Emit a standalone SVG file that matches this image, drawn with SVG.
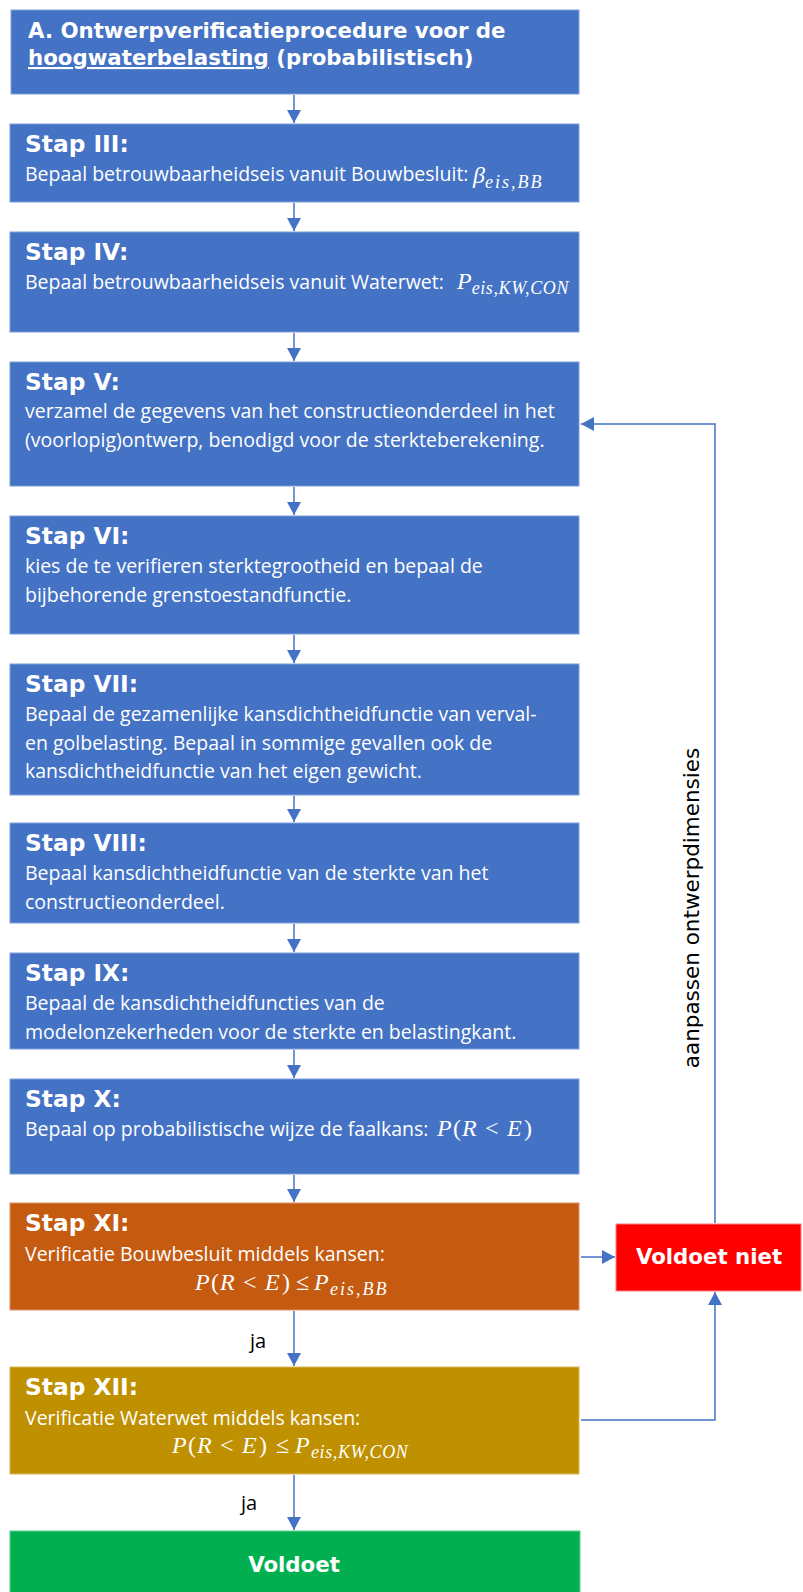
<svg xmlns="http://www.w3.org/2000/svg" width="803" height="1592" viewBox="0 0 803 1592">
<style>
.bl{fill:#4472C4;stroke:#7F9FD8;stroke-width:1}
.or{fill:#C55A11;stroke:#E0916A;stroke-width:1}
.gd{fill:#BF9000;stroke:#D8B860;stroke-width:1}
.rd{fill:#FF0000;stroke:#FF8080;stroke-width:1}
.gr{fill:#00B050;stroke:#60D090;stroke-width:1}
.t{font-family:"DejaVu Sans",Verdana,sans-serif;font-weight:bold;font-size:21.3px;fill:#fff}
.h{font-family:"DejaVu Sans",Verdana,sans-serif;font-weight:bold;font-size:23.3px;fill:#fff}
.b{font-family:"Open Sans","Noto Sans",sans-serif;font-size:19.5px;fill:#fff}
.m{font-family:"Liberation Serif","Times New Roman",serif;font-style:italic;font-size:24px;fill:#fff}
.u{font-style:normal}
.s{font-size:18px}
.lbl{font-family:"Open Sans","Noto Sans",sans-serif;font-size:20px;fill:#000}
.vl{font-family:"DejaVu Sans",Verdana,sans-serif;font-size:21.5px;fill:#000}
.c{stroke:#4472C4;stroke-width:1.5;fill:none}
</style>
<defs>
<marker id="ah" markerUnits="userSpaceOnUse" markerWidth="13" markerHeight="14" refX="13" refY="7" orient="auto">
<path d="M0,0 L13,7 L0,14 z" fill="#4472C4"/>
</marker>
</defs>

<g id="connectors">
<line class="c" x1="294" y1="95" x2="294" y2="123" marker-end="url(#ah)"/>
<line class="c" x1="294" y1="203" x2="294" y2="231" marker-end="url(#ah)"/>
<line class="c" x1="294" y1="333" x2="294" y2="361" marker-end="url(#ah)"/>
<line class="c" x1="294" y1="487" x2="294" y2="515" marker-end="url(#ah)"/>
<line class="c" x1="294" y1="635" x2="294" y2="663" marker-end="url(#ah)"/>
<line class="c" x1="294" y1="796" x2="294" y2="822" marker-end="url(#ah)"/>
<line class="c" x1="294" y1="924" x2="294" y2="952" marker-end="url(#ah)"/>
<line class="c" x1="294" y1="1050" x2="294" y2="1078" marker-end="url(#ah)"/>
<line class="c" x1="294" y1="1175" x2="294" y2="1202" marker-end="url(#ah)"/>
<line class="c" x1="294" y1="1311" x2="294" y2="1366" marker-end="url(#ah)"/>
<line class="c" x1="294" y1="1475" x2="294" y2="1530" marker-end="url(#ah)"/>
<line class="c" x1="581" y1="1257" x2="615" y2="1257" marker-end="url(#ah)"/>
<polyline class="c" points="581,1420 715,1420 715,1292" marker-end="url(#ah)"/>
<polyline class="c" points="715,1223 715,424 581,424" marker-end="url(#ah)"/>
<text class="lbl" x="250" y="1348">ja</text>
<text class="lbl" x="241" y="1510">ja</text>
<text class="vl" text-anchor="middle" transform="translate(699,908) rotate(-90)">aanpassen ontwerpdimensies</text>
</g>

<g id="nodeA">
<rect class="bl" x="11" y="10" width="568" height="84"/>
<text class="t" x="28" y="38">A. Ontwerpverificatieprocedure voor de</text>
<text class="t" x="28" y="65"><tspan text-decoration="underline">hoogwaterbelasting</tspan> (probabilistisch)</text>
</g>

<g id="stap3">
<rect class="bl" x="10" y="124" width="569" height="78"/>
<text class="h" x="25" y="152">Stap III:</text>
<text class="b" x="25" y="181">Bepaal betrouwbaarheidseis vanuit Bouwbesluit:</text>
<text class="m" x="473" y="183">β<tspan class="s" dy="5" letter-spacing="2">eis,BB</tspan></text>
</g>

<g id="stap4">
<rect class="bl" x="10" y="232" width="569" height="100"/>
<text class="h" x="25" y="260">Stap IV:</text>
<text class="b" x="25" y="289">Bepaal betrouwbaarheidseis vanuit Waterwet:</text>
<text class="m" x="457" y="289">P<tspan class="s" dy="5" letter-spacing="0.6">eis,KW,CON</tspan></text>
</g>

<g id="stap5">
<rect class="bl" x="10" y="362" width="569" height="124"/>
<text class="h" x="25" y="390">Stap V:</text>
<text class="b" x="25" y="418">verzamel de gegevens van het constructieonderdeel in het</text>
<text class="b" x="25" y="446.5">(voorlopig)ontwerp, benodigd voor de sterkteberekening.</text>
</g>

<g id="stap6">
<rect class="bl" x="10" y="516" width="569" height="118"/>
<text class="h" x="25" y="544">Stap VI:</text>
<text class="b" x="25" y="573">kies de te verifieren sterktegrootheid en bepaal de</text>
<text class="b" x="25" y="601.5">bijbehorende grenstoestandfunctie.</text>
</g>

<g id="stap7">
<rect class="bl" x="10" y="664" width="569" height="131"/>
<text class="h" x="25" y="692">Stap VII:</text>
<text class="b" x="25" y="721">Bepaal de gezamenlijke kansdichtheidfunctie van verval-</text>
<text class="b" x="25" y="749.5">en golbelasting. Bepaal in sommige gevallen ook de</text>
<text class="b" x="25" y="778">kansdichtheidfunctie van het eigen gewicht.</text>
</g>

<g id="stap8">
<rect class="bl" x="10" y="823" width="569" height="100"/>
<text class="h" x="25" y="851">Stap VIII:</text>
<text class="b" x="25" y="880">Bepaal kansdichtheidfunctie van de sterkte van het</text>
<text class="b" x="25" y="908.5">constructieonderdeel.</text>
</g>

<g id="stap9">
<rect class="bl" x="10" y="953" width="569" height="96"/>
<text class="h" x="25" y="981">Stap IX:</text>
<text class="b" x="25" y="1010">Bepaal de kansdichtheidfuncties van de</text>
<text class="b" x="25" y="1038.5">modelonzekerheden voor de sterkte en belastingkant.</text>
</g>

<g id="stap10">
<rect class="bl" x="10" y="1079" width="569" height="95"/>
<text class="h" x="25" y="1107">Stap X:</text>
<text class="b" x="25" y="1136">Bepaal op probabilistische wijze de faalkans:</text>
<text class="m" y="1136"><tspan x="437">P</tspan><tspan class="u" x="453">(</tspan><tspan x="462">R</tspan><tspan class="u" x="485">&lt;</tspan><tspan x="507">E</tspan><tspan class="u" x="524">)</tspan></text>
</g>

<g id="stap11">
<rect class="or" x="10" y="1203" width="569" height="107"/>
<text class="h" x="25" y="1231">Stap XI:</text>
<text class="b" x="25" y="1261">Verificatie Bouwbesluit middels kansen:</text>
<text class="m" y="1290"><tspan x="195">P</tspan><tspan class="u" x="211">(</tspan><tspan x="220">R</tspan><tspan class="u" x="243">&lt;</tspan><tspan x="265">E</tspan><tspan class="u" x="282">)</tspan><tspan class="u" x="296">≤</tspan><tspan x="314">P</tspan><tspan class="s" x="330" dy="5" letter-spacing="2">eis,BB</tspan></text>
</g>

<g id="stap12">
<rect class="gd" x="10" y="1367" width="569" height="107"/>
<text class="h" x="25" y="1395">Stap XII:</text>
<text class="b" x="25" y="1425">Verificatie Waterwet middels kansen:</text>
<text class="m" y="1453"><tspan x="172">P</tspan><tspan class="u" x="188">(</tspan><tspan x="197">R</tspan><tspan class="u" x="220">&lt;</tspan><tspan x="242">E</tspan><tspan class="u" x="259">)</tspan><tspan class="u" x="276">≤</tspan><tspan x="295">P</tspan><tspan class="s" x="311" dy="5" letter-spacing="0.6">eis,KW,CON</tspan></text>
</g>

<g id="voldoetNiet">
<rect class="rd" x="616" y="1224" width="185" height="67"/>
<text class="t" x="709" y="1264" text-anchor="middle">Voldoet niet</text>
</g>

<g id="voldoet">
<rect class="gr" x="10" y="1531" width="570" height="70"/>
<text class="t" x="294" y="1572" text-anchor="middle">Voldoet</text>
</g>
</svg>
